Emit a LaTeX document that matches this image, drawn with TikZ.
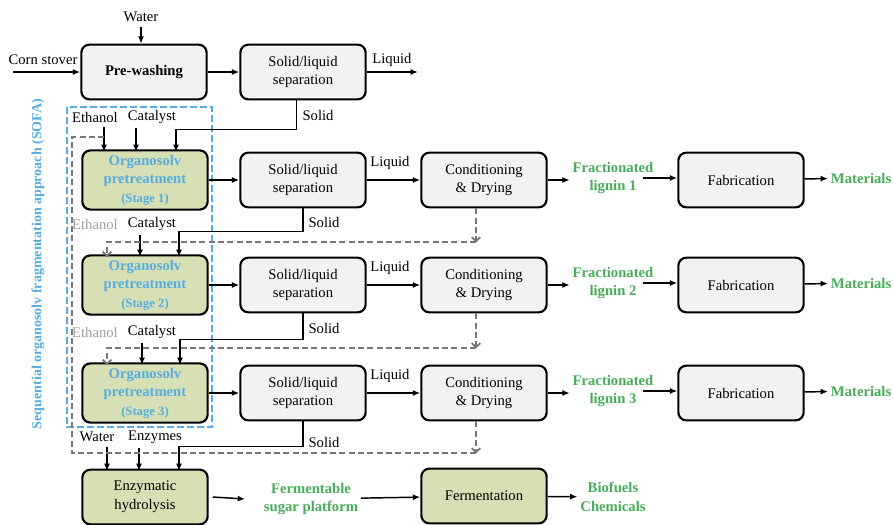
\documentclass[tikz,border=0pt]{standalone}
\usepackage{fontspec}
\setmainfont{Liberation Serif}
\usetikzlibrary{shapes, positioning, arrows.meta, calc}

\definecolor{boxgray}{RGB}{242,242,242}
\definecolor{stagegreen}{RGB}{214,224,180}
\definecolor{textgreen}{RGB}{72,172,88}
\definecolor{textblue}{RGB}{88,172,222}
\definecolor{recyclegray}{RGB}{120,120,120}
\definecolor{labelgray}{RGB}{160,160,160}

\begin{document}
\begin{tikzpicture}[x=0.75pt, y=-0.75pt, font=\fontsize{11}{14}\selectfont,
    box/.style={draw, line width=1.6pt, rounded corners=6pt, fill=boxgray,
      minimum width=94pt, minimum height=41pt, align=center},
    stagebox/.style={box, fill=stagegreen},
    product/.style={text=textgreen, font=\fontsize{11}{14}\selectfont\bfseries, align=center, inner sep=2pt},
    flow/.style={line width=1.1pt, -{Latex[length=5.5pt,width=4.5pt]}},
    recycle/.style={draw=recyclegray, line width=1.4pt, dash pattern=on 4.5pt off 2.5pt},
    recarrow/.style={recycle, -{Straight Barb[length=3pt,width=6.5pt]}}]

    \useasboundingbox (0,0) rectangle (893,525);

    % pre-washing
    \node[box] (prewash) at (144,72) {\textbf{Pre-washing}};
    \node[box] (sep0) at (303,72) {Solid/liquid\\separation};
    \node (water) at (141,17) {Water};
    \node (corn) at (43,60) {Corn stover};
    \node (liq0) at (392,60) {Liquid};
    \coordinate (cin) at (13,72);
    \coordinate (lout) at (418,72);
    \draw[flow] (water) -- (water |- prewash.north);
    \draw[flow] (cin) -- (prewash);
    \draw[flow] (prewash) -- (sep0);
    \draw[flow] (sep0) -- (lout);

    % SOFA frame
    \draw[textblue, line width=1.4pt, dash pattern=on 5pt off 2.5pt] (67,107) rectangle (212,427);
    \node[rotate=90, text=textblue, font=\fontsize{10.5}{12}\selectfont\bfseries] (sofa) at (38,264)
      {Sequential organosolv fragmentation approach (SOFA)};

    % stages
    \foreach \i/\y in {1/180, 2/285, 3/393} {
      \node[stagebox, text=textblue, font=\fontsize{11}{14}\selectfont\bfseries] (stage\i) at (145,\y)
        {Organosolv\\pretreatment\\{\fontsize{9.5}{12}\selectfont(Stage \i)}};
      \node[box] (sep\i) at (303,\y) {Solid/liquid\\separation};
      \node[box] (cond\i) at (484,\y) {Conditioning\\\& Drying};
      \node[product] (frac\i) at (613,\y-2) {Fractionated\\lignin \i};
      \node[box] (fab\i) at (741,\y) {Fabrication};
      \node[product, anchor=west] (mat\i) at (828,\y-2) {Materials};
      \node (liq\i) at (390,\y-17) {Liquid};
      \draw[flow] (stage\i) -- (sep\i);
      \draw[flow] (sep\i) -- (cond\i);
      \draw[flow] (cond\i) -- (frac\i.west |- cond\i);
      \draw[flow] ([xshift=-10pt]frac\i.east) -- (fab\i.west |- frac\i);
      \draw[flow] (fab\i) -- (mat\i);
    }

    % hydrolysis and fermentation
    \node[stagebox] (hydro) at (145,497) {Enzymatic\\hydrolysis};
    \node[product] (sugar) at (311,499) {Fermentable\\sugar platform};
    \node[stagebox] (ferm) at (484,496) {Fermentation};
    \node[product] (fuels) at (613,497) {Biofuels\\Chemicals};
    \draw[flow] ([xshift=3pt]hydro.east) -- ([xshift=-12pt]sugar.west);
    \draw[flow] (sugar) -- (ferm);
    \draw[flow] (ferm) -- (fuels);

    % feeds to stage 1
    \node (eth1) at (95,117) {Ethanol};
    \node (cat1) at (152,117) {Catalyst};
    \coordinate (s1a) at (104,152);
    \coordinate (s1b) at (136,152);
    \coordinate (s1c) at (176,152);
    \draw[flow] (eth1.south -| s1a) -- (s1a);
    \draw[flow] (cat1.south -| s1b) -- (s1b);
    \draw[flow] ([xshift=-5pt]sep0.south) -- ++(0,29) -| (s1c);
    \node (sol0) at (318,115) {Solid};

    % feeds to stage 2
    \node[text=labelgray] (eth2) at (95,224) {Ethanol};
    \node (cat2) at (152,224) {Catalyst};
    \coordinate (s2a) at (107,257);
    \coordinate (s2b) at (140,257);
    \coordinate (s2c) at (179,257);
    \draw[flow] (cat2.south -| s2b) -- (s2b);
    \draw[flow] (sep1.south) -- ++(0,23) -| (s2c);
    \node (sol1) at (324,222) {Solid};

    % feeds to stage 3
    \node[text=labelgray] (eth3) at (95,332) {Ethanol};
    \node (cat3) at (152,332) {Catalyst};
    \coordinate (s3a) at (107,365);
    \coordinate (s3b) at (142,365);
    \coordinate (s3c) at (180,365);
    \draw[flow] (cat3.south -| s3b) -- (s3b);
    \draw[flow] (sep2.south) -- ++(0,26) -| (s3c);
    \node (sol2) at (324,328) {Solid};

    % feeds to hydrolysis
    \node (wat4) at (97,437) {Water};
    \node (enz4) at (155,437) {Enzymes};
    \coordinate (s4a) at (107,471);
    \coordinate (s4b) at (139,471);
    \coordinate (s4c) at (179,471);
    \draw[flow] (wat4.south -| s4a) -- (s4a);
    \draw[flow] (enz4.south -| s4b) -- (s4b);
    \draw[flow] (sep3.south) -- ++(0,25) -| (s4c);
    \node (sol3) at (324,442) {Solid};

    % ethanol recycle
    \coordinate (r1) at ($(cond1.south)+(-8,34)$);
    \coordinate (r2) at ($(cond2.south)+(-8,35)$);
    \coordinate (r3) at ($(cond3.south)+(-8,32)$);
    \coordinate (rl) at (72,137);
    \draw[recarrow] (cond1.south -| r1) -- (r1);
    \draw[recarrow] (cond2.south -| r2) -- (r2);
    \draw[recarrow] (cond3.south -| r3) -- (r3);
    \draw[recarrow] (r1) -| (s2a);
    \draw[recarrow] (r2) -| (s3a);
    \draw[recycle] (r3) -| (rl) -- (rl -| s1a);
\end{tikzpicture}
\end{document}
